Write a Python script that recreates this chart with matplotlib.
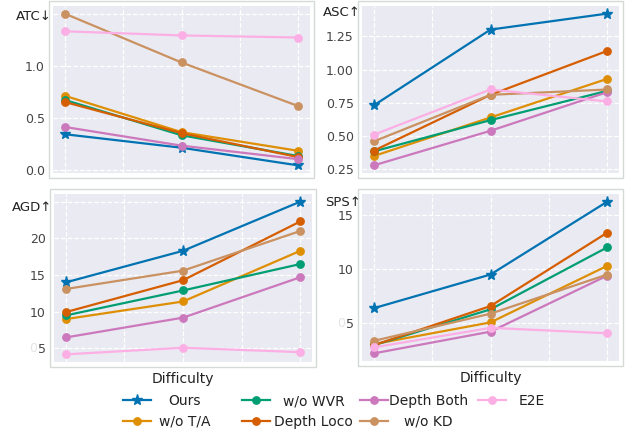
import matplotlib
matplotlib.use("Agg")
import matplotlib.pyplot as plt
from matplotlib.patches import Rectangle

difficulty = [0, 1, 2]
methods = ["Ours", "w/o T/A", "w/o WVR", "Depth Loco", "Depth Both", "w/o KD", "E2E"]
colors = ["#0173b2", "#de8f05", "#029e73", "#d55e00", "#cc78bc", "#ca9161", "#fbafe4"]
markers = ["*", "o", "o", "o", "o", "o", "o"]

atc = {
    "Ours": [0.34, 0.21, 0.04],
    "w/o T/A": [0.71, 0.36, 0.18],
    "w/o WVR": [0.67, 0.33, 0.13],
    "Depth Loco": [0.65, 0.35, 0.12],
    "Depth Both": [0.41, 0.23, 0.10],
    "w/o KD": [1.50, 1.03, 0.61],
    "E2E": [1.33, 1.29, 1.27],
}
asc = {
    "Ours": [0.73, 1.30, 1.42],
    "w/o T/A": [0.35, 0.64, 0.93],
    "w/o WVR": [0.385, 0.62, 0.84],
    "Depth Loco": [0.39, 0.81, 1.14],
    "Depth Both": [0.28, 0.54, 0.83],
    "w/o KD": [0.46, 0.81, 0.85],
    "E2E": [0.51, 0.85, 0.76],
}
agd = {
    "Ours": [14.0, 18.3, 25.0],
    "w/o T/A": [9.0, 11.4, 18.3],
    "w/o WVR": [9.5, 12.9, 16.5],
    "Depth Loco": [9.95, 14.3, 22.3],
    "Depth Both": [6.5, 9.2, 14.7],
    "w/o KD": [13.1, 15.6, 21.0],
    "E2E": [4.2, 5.1, 4.5],
}
sps = {
    "Ours": [6.4, 9.5, 16.2],
    "w/o T/A": [3.1, 5.1, 10.3],
    "w/o WVR": [3.0, 6.3, 12.0],
    "Depth Loco": [3.0, 6.6, 13.35],
    "Depth Both": [2.25, 4.25, 9.4],
    "w/o KD": [3.4, 5.9, 9.5],
    "E2E": [2.8, 4.6, 4.1],
}

panels = [
    ("ATC↓", atc, [0.0, 0.5, 1.0, 1.5], ["0.0", "0.5", "1.0", ""], 0.94),
    ("ASC↑", asc, [0.25, 0.5, 0.75, 1.0, 1.25], ["0.25", "0.50", "0.75", "1.00", "1.25"], 0.96),
    ("AGD↑", agd, [5, 10, 15, 20, 25], ["5", "10", "15", "20", ""], 0.92),
    ("SPS↑", sps, [5, 10, 15], ["5", "10", "15"], 0.95),
]

W, H = 628, 436
fig = plt.figure(figsize=(W / 100, H / 100), dpi=100)
fig.patch.set_facecolor("white")

boxes = [(53, 6, 310, 173), (362, 6, 619, 173), (54, 194, 312, 362), (362, 194, 619, 361)]
axes = []
for (x0, y0, x1, y1) in boxes:
    ax = fig.add_axes([x0 / W, 1 - y1 / H, (x1 - x0) / W, (y1 - y0) / H])
    axes.append(ax)

for i, (ax, (name, data, yt, ytl, ty)) in enumerate(zip(axes, panels)):
    ax.set_facecolor("#eaeaf2")
    for s in ax.spines.values():
        s.set_visible(False)
    handles = []
    for m, c, mk in zip(methods, colors, markers):
        ms = 8 if mk == "*" else 5.3
        h, = ax.plot(difficulty, data[m], color=c, marker=mk, markersize=ms,
                     linewidth=1.6, label=m)
        handles.append(h)
    ax.set_xticks([0, 0.5, 1, 1.5, 2])
    ax.set_xticklabels([])
    ax.set_yticks(yt)
    ax.set_yticklabels(ytl)
    ax.tick_params(length=0, pad=6, labelsize=9, labelcolor="#444444")
    ax.grid(True, color="white", linestyle="--", linewidth=0.9)
    ax.set_axisbelow(True)
    ax.text(-0.005, ty, name, transform=ax.transAxes, ha="right", va="center",
            fontsize=9.5, color="#222222")
    ax.add_patch(Rectangle((-0.015, -0.03), 1.03, 1.06, transform=ax.transAxes,
                           fill=False, edgecolor="#d4dbd4", linewidth=1.0,
                           clip_on=False, zorder=0))
    if i >= 2:
        ax.set_xlabel("Difficulty", fontsize=10, color="#222222", labelpad=1)
        # faint ghost glyph next to the "5" tick label
        ax.annotate("0", xy=(0, 5), xycoords=("axes fraction", "data"),
                    xytext=(-12.5, 0), textcoords="offset points", ha="right",
                    va="center", fontsize=9, color="#e4e4e4")

# legend: four single-column legends at fixed column positions
col_groups = [[0, 1], [2, 3], [4, 5], [6]]
col_x = [123, 242, 360, 478]
pads = [0.6, 0.3, 0.1, 0.9]
legs = []
for grp, cx, pd in zip(col_groups, col_x, pads):
    hs = [handles[k] for k in grp]
    ls = [methods[k] for k in grp]
    leg = fig.legend(hs, ls, loc="upper left", bbox_to_anchor=(cx / W, 1 - 394 / H),
                     frameon=False, borderpad=0, borderaxespad=0, fontsize=10,
                     handlelength=2.0, handletextpad=pd, labelspacing=0.5)
    for t in leg.get_texts():
        t.set_color("#222222")
    legs.append(leg)

fig.canvas.draw()
renderer = fig.canvas.get_renderer()
for leg in legs:
    texts = leg.get_texts()
    ws = [t.get_window_extent(renderer).width for t in texts]
    mw = max(ws)
    for t, w in zip(texts, ws):
        t.set_x((mw - w) / 2)

fig.savefig("out.png", dpi=100)
